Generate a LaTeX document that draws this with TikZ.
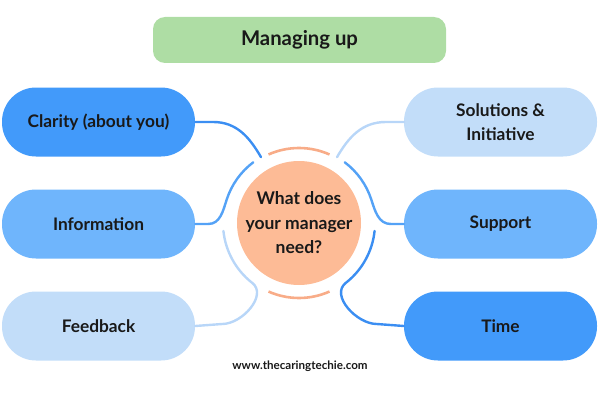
\documentclass[tikz,border=0pt]{standalone}
\usepackage{fontspec}
\setmainfont{Lato}
\usetikzlibrary{calc}

\definecolor{bluedark}{RGB}{66,154,250}
\definecolor{bluemid}{RGB}{111,181,252}
\definecolor{bluelight}{RGB}{194,221,249}
\definecolor{linedark}{RGB}{59,142,242}
\definecolor{linemid}{RGB}{84,162,246}
\definecolor{linelight}{RGB}{184,214,248}
\definecolor{peach}{RGB}{253,187,150}
\definecolor{peachline}{RGB}{248,172,136}
\definecolor{mint}{RGB}{174,221,164}

\begin{document}
\begin{tikzpicture}[x=1pt, y=1pt, every node/.style={font=\bfseries\fontsize{17.3}{23.5}\selectfont, text=black!90},
	pill/.style={rounded corners=34pt, minimum width=193pt, minimum height=69pt, inner sep=0pt, align=center},
	conn/.style={line width=2.4pt, line cap=round}]
	\useasboundingbox (0,0) rectangle (600,400);
	% title and centre
	\node[fill=mint, rounded corners=12pt, minimum width=293pt, minimum height=46pt, font=\bfseries\fontsize{20.3}{24}\selectfont] (title) at (299.5,360) {Managing up};
	\node[circle, fill=peach, minimum size=124pt, inner sep=0pt, align=center, font=\bfseries\fontsize{17.5}{24.5}\selectfont] (ctr) at (299,177) {What does\\your manager\\need?};
	\draw[peachline, line width=2.6pt] ($(ctr)+(66:75)$) arc[start angle=66, end angle=114, radius=75];
	\draw[peachline, line width=2.6pt] ($(ctr)+(246:75)$) arc[start angle=246, end angle=294, radius=75];
	% left column
	\node[pill, fill=bluedark] (clarity) at (98.5,278) {Clarity (about you)};
	\node[pill, fill=bluemid] (info) at (98.5,176) {Information};
	\node[pill, fill=bluelight] (feedback) at (98.5,74) {Feedback};
	% right column
	\node[pill, fill=bluelight] (solutions) at (500.5,278) {Solutions \&\\Initiative};
	\node[pill, fill=bluemid] (support) at (500.5,176) {Support};
	\node[pill, fill=bluedark] (timebox) at (500.5,74) {Time};
	% connector ends near the circle
	\coordinate (clarityend) at ($(ctr)+(120:76)$);
	\coordinate (infoend) at ($(ctr)+(127:76)$);
	\coordinate (feedbackend) at ($(ctr)+(186:76)$);
	\coordinate (solutionsend) at ($(ctr)+(60:76)$);
	\coordinate (supportend) at ($(ctr)+(53:76)$);
	\coordinate (timeend) at ($(ctr)+(-6:76)$);
	\draw[conn, linedark] (clarity.east) -- ++(18,0) to[out=0, in=120] (clarityend);
	\draw[conn, linemid] (infoend) arc[start angle=127, end angle=162, radius=76] to[out=252, in=0] ($(info.east)+(13,0)$) -- (info.east);
	\draw[conn, linelight] (feedbackend) arc[start angle=186, end angle=232, radius=76] to[out=322, in=0] ($(feedback.east)+(27,2)$) -- (feedback.east);
	\draw[conn, linelight] (solutions.west) -- ++(-18,0) to[out=180, in=60] (solutionsend);
	\draw[conn, linemid] (supportend) arc[start angle=53, end angle=18, radius=76] to[out=288, in=180] ($(support.west)+(-13,0)$) -- (support.west);
	\draw[conn, linedark] (timeend) arc[start angle=-6, end angle=-52, radius=76] to[out=218, in=180] ($(timebox.west)+(-27,2)$) -- (timebox.west);
	% footer
	\node[font=\bfseries\fontsize{11.6}{13}\selectfont] (footer) at (300,34) {www.thecaringtechie.com};
\end{tikzpicture}
\end{document}
